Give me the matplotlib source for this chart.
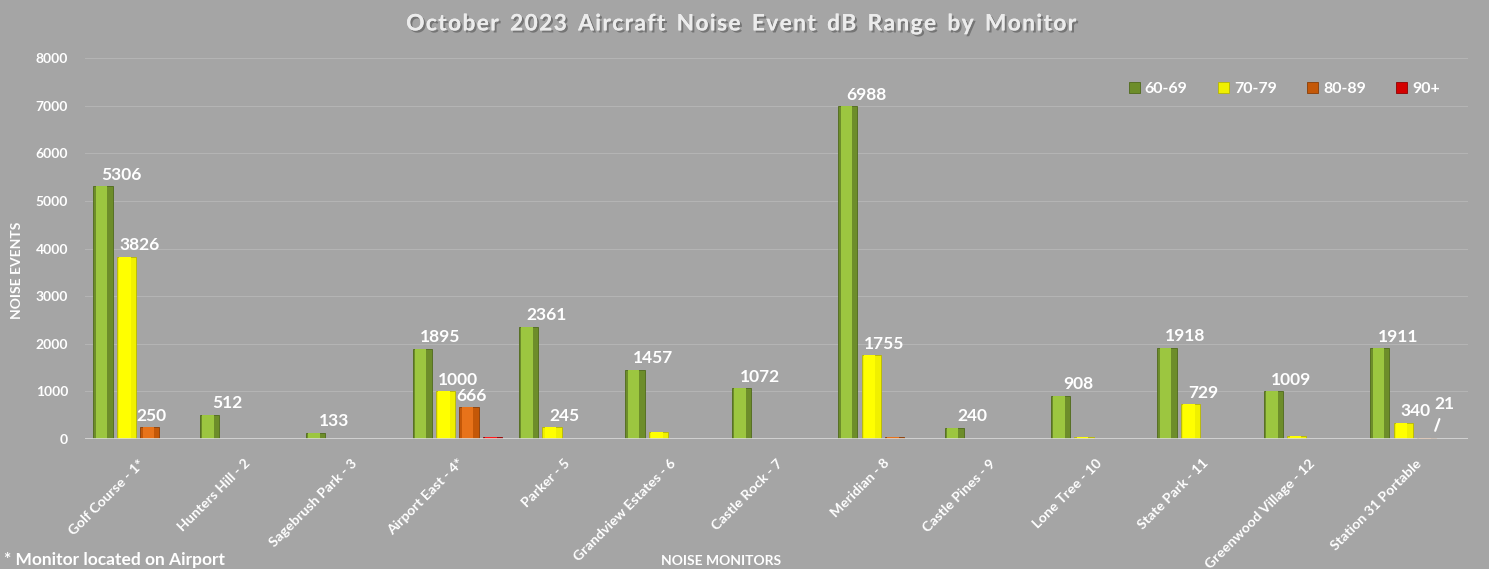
import numpy as np
import matplotlib.pyplot as plt
import matplotlib.patheffects as pe

plt.rcParams['font.family'] = ['Lato', 'DejaVu Sans']

monitors = ['Golf Course - 1*', 'Hunters Hill - 2', 'Sagebrush Park - 3', 'Airport East - 4*',
            'Parker - 5', 'Grandview Estates - 6', 'Castle Rock - 7', 'Meridian - 8',
            'Castle Pines - 9', 'Lone Tree - 10', 'State Park - 11', 'Greenwood Village - 12',
            'Station 31 Portable']
db_60_69 = [5306, 512, 133, 1895, 2361, 1457, 1072, 6988, 240, 908, 1918, 1009, 1911]
db_70_79 = [3826, 6, 5, 1000, 245, 150, 10, 1755, 5, 35, 729, 65, 340]
db_80_89 = [250, 3, 0, 666, 3, 3, 3, 50, 0, 3, 3, 3, 21]
db_90_up = [10, 0, 0, 45, 0, 0, 0, 5, 0, 0, 0, 0, 3]

# which values carry a data label
labels_60 = [True] * 13
labels_70 = [True, False, False, True, True, False, False, True, False, False, True, False, True]
labels_80 = [True, False, False, True, False, False, False, False, False, False, False, False, False]

bg = '#a5a5a5'
fig = plt.figure(figsize=(14.89, 5.69), dpi=100, facecolor=bg)
ax = fig.add_axes([0.057, 0.2285, 0.929, 0.6695], facecolor=bg)

x = np.arange(len(monitors))
w = 0.18
offs = [-0.33, -0.11, 0.11, 0.33]
series = [
    (db_60_69, '#6d8d2a', '#9cc640', '#4f6a1a', '60-69'),
    (db_70_79, '#f0f000', '#ffff00', '#b8b800', '70-79'),
    (db_80_89, '#c45808', '#e8731a', '#8a3d05', '80-89'),
    (db_90_up, '#d40000', '#ff1a1a', '#900000', '90+'),
]
handles = []
for (vals, dark, light, edge, name), o in zip(series, offs):
    h = ax.bar(x + o, vals, w, color=dark, edgecolor=edge, linewidth=0.6, zorder=3, label=name)
    ax.bar(x + o - w * 0.08, vals, w * 0.6, color=light, linewidth=0, zorder=4)
    handles.append(h)

lab_kw = dict(ha='center', va='bottom', color='white', fontsize=12.5, fontweight='bold', zorder=5)
for i in x:
    if labels_60[i]:
        ax.text(i + offs[0] + 0.17, db_60_69[i] + 70, str(db_60_69[i]), **lab_kw)
    if labels_70[i]:
        ax.text(i + offs[1] + 0.12, db_70_79[i] + 70, str(db_70_79[i]), **lab_kw)
    if labels_80[i]:
        ax.text(i + offs[2] + 0.02, db_80_89[i] + 70, str(db_80_89[i]), **lab_kw)

# small value with leader line on the last monitor
last = len(monitors) - 1
ax.annotate(str(db_80_89[last]), xy=(last + offs[2] + 0.08, db_80_89[last] + 150),
            xytext=(last + offs[2] + 0.17, 560), ha='center', va='bottom', color='white',
            fontsize=12.5, fontweight='bold', zorder=5,
            arrowprops=dict(arrowstyle='-', color='white', lw=1.5, shrinkA=3, shrinkB=0))

ax.set_xlim(-0.5, len(monitors) - 0.5)
ax.set_ylim(0, 8000)
ax.set_yticks(range(0, 8001, 1000))
ax.yaxis.grid(True, color='#b4b4b4', linewidth=0.8, zorder=0)
ax.axhline(0, color='#d9d9d9', linewidth=1.2, zorder=6)
for s in ax.spines.values():
    s.set_visible(False)
ax.tick_params(axis='both', length=0)
ax.tick_params(axis='y', labelcolor='white', labelsize=10, pad=12)
for t in ax.get_yticklabels():
    t.set_fontweight('bold')
ax.set_xticks(x)
ax.set_xticklabels(monitors, rotation=45, ha='right', rotation_mode='anchor',
                   color='white', fontsize=10.2, fontweight='bold')
ax.tick_params(axis='x', pad=13)

fig.text(0.0115, 0.525, 'NOISE EVENTS', rotation=90, ha='center', va='center',
         color='white', fontsize=10, fontweight='bold')
fig.text(0.484, 0.004, 'NOISE MONITORS', ha='center', va='bottom',
         color='white', fontsize=10, fontweight='bold')
fig.text(0.003, 0.002, '* Monitor located on Airport', ha='left', va='bottom',
         color='white', fontsize=12.5, fontweight='bold')

title = 'October 2023 Aircraft Noise Event dB Range by Monitor'
fig.text(0.4975, 0.958, '\u200a'.join(title).replace('\u200a \u200a', '\u2002'),
         ha='center', va='center', color='#ececec', fontsize=16.3, fontweight='bold',
         path_effects=[pe.withSimplePatchShadow(offset=(1.5, -1.5), shadow_rgbFace='#555555', alpha=0.6),
                       pe.Normal()])

leg = ax.legend(handles=handles, loc='upper right', bbox_to_anchor=(0.99, 0.975), ncol=4,
                frameon=False, handlelength=0.7, handleheight=0.7, columnspacing=1.9,
                handletextpad=0.3, fontsize=11.5)
for t in leg.get_texts():
    t.set_color('white')
    t.set_fontweight('bold')

fig.savefig('out.png', dpi=100, facecolor=bg)
